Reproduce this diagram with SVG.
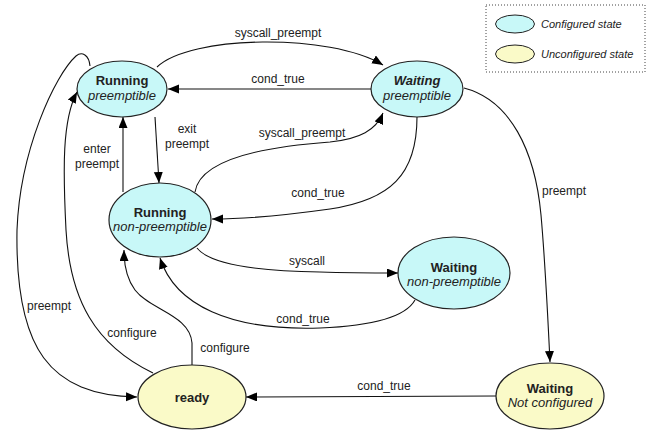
<svg xmlns="http://www.w3.org/2000/svg" width="651" height="433" viewBox="0 0 651 433">
<style>
.node ellipse{stroke:#222;stroke-width:1.2}
.cfg{fill:#c8f8f8}
.unc{fill:#fafac8}
text{font-family:"Liberation Sans",Arial,sans-serif;fill:#222}
.nl{font-size:13px;text-anchor:middle}
.b{font-weight:bold}
.i{font-style:italic}
.el{font-size:12px;text-anchor:middle}
.edges path{fill:none;stroke:#111;stroke-width:1.1;marker-end:url(#ah)}
</style>
<defs>
<marker id="ah" markerUnits="userSpaceOnUse" markerWidth="12" markerHeight="10" refX="11" refY="4.5" orient="auto">
<path d="M0,0 L11,4.5 L0,9 Z" fill="#000"/>
</marker>
</defs>
<rect width="651" height="433" fill="#fff"/>

<g id="legend">
<rect x="486" y="5" width="159" height="67" fill="none" stroke="#444" stroke-dasharray="1,2"/>
<ellipse cx="515" cy="24" rx="19.5" ry="9" class="cfg" stroke="#222"/>
<ellipse cx="515" cy="54" rx="19.5" ry="9" class="unc" stroke="#222"/>
<text x="541" y="28" font-size="11" font-style="italic">Configured state</text>
<text x="541" y="58" font-size="11" font-style="italic">Unconfigured state</text>
</g>

<g class="edges" id="connectors">
<path d="M157,67 C190,35 330,33 383,65"/>
<path d="M371,89 L168,89"/>
<path d="M155,117 L159,183"/>
<path d="M123,192 L123,117"/>
<path d="M195,192 C200,160 260,147 330,142 C360,139 376,130 383,113"/>
<path d="M417,117 C417,175 390,200 330,209 C280,216 240,219 212,219"/>
<path d="M197,248 C210,265 260,271 320,272 C350,273 380,273 398,273"/>
<path d="M415,300 C405,318 370,326 320,328 C230,331 175,305 160,258"/>
<path d="M464,88 C510,100 535,150 541,215 C545,260 548,320 550,362"/>
<path d="M496,396 L246,397"/>
<path d="M192,365 L192,343 C190,315 150,310 135,290 C126,278 124,265 124,250"/>
<path d="M153,373 C95,345 70,300 66,230 C63,170 62,120 77,92"/>
<path d="M90,66 C89,55 82,51 76,56 C55,75 20,150 17,230 C15,350 50,395 137,397"/>
</g>

<g id="edge-labels">
<text class="el" x="278" y="37">syscall_preempt</text>
<text class="el" x="278" y="83">cond_true</text>
<text class="el" x="187" y="133">exit</text>
<text class="el" x="187" y="148">preempt</text>
<text class="el" x="97" y="153">enter</text>
<text class="el" x="97" y="168">preempt</text>
<text class="el" x="302" y="137">syscall_preempt</text>
<text class="el" x="318" y="197">cond_true</text>
<text x="542" y="195" font-size="12">preempt</text>
<text class="el" x="307" y="265">syscall</text>
<text class="el" x="303" y="323">cond_true</text>
<text class="el" x="49" y="310">preempt</text>
<text class="el" x="132" y="337">configure</text>
<text class="el" x="225" y="352">configure</text>
<text class="el" x="384" y="390">cond_true</text>
</g>

<g class="node" id="running-preemptible">
<ellipse cx="122" cy="89" rx="45" ry="28" class="cfg"/>
<text class="nl b" x="122" y="85">Running</text>
<text class="nl i" x="122" y="100">preemptible</text>
</g>
<g class="node" id="waiting-preemptible">
<ellipse cx="417" cy="89" rx="46" ry="28" class="cfg"/>
<text class="nl b i" x="417" y="85">Waiting</text>
<text class="nl i" x="417" y="100">preemptible</text>
</g>
<g class="node" id="running-non-preemptible">
<ellipse cx="160" cy="220" rx="51" ry="37" class="cfg"/>
<text class="nl b" x="160" y="217">Running</text>
<text class="nl i" x="160" y="231">non-preemptible</text>
</g>
<g class="node" id="waiting-non-preemptible">
<ellipse cx="454" cy="273" rx="56" ry="36" class="cfg"/>
<text class="nl b" x="454" y="272">Waiting</text>
<text class="nl i" x="454" y="286">non-preemptible</text>
</g>
<g class="node" id="ready">
<ellipse cx="192" cy="397" rx="54" ry="32" class="unc"/>
<text class="nl b" x="192" y="402">ready</text>
</g>
<g class="node" id="waiting-not-configured">
<ellipse cx="550" cy="396" rx="54" ry="33" class="unc"/>
<text class="nl b" x="550" y="393">Waiting</text>
<text class="nl i" x="550" y="407">Not configured</text>
</g>
</svg>
